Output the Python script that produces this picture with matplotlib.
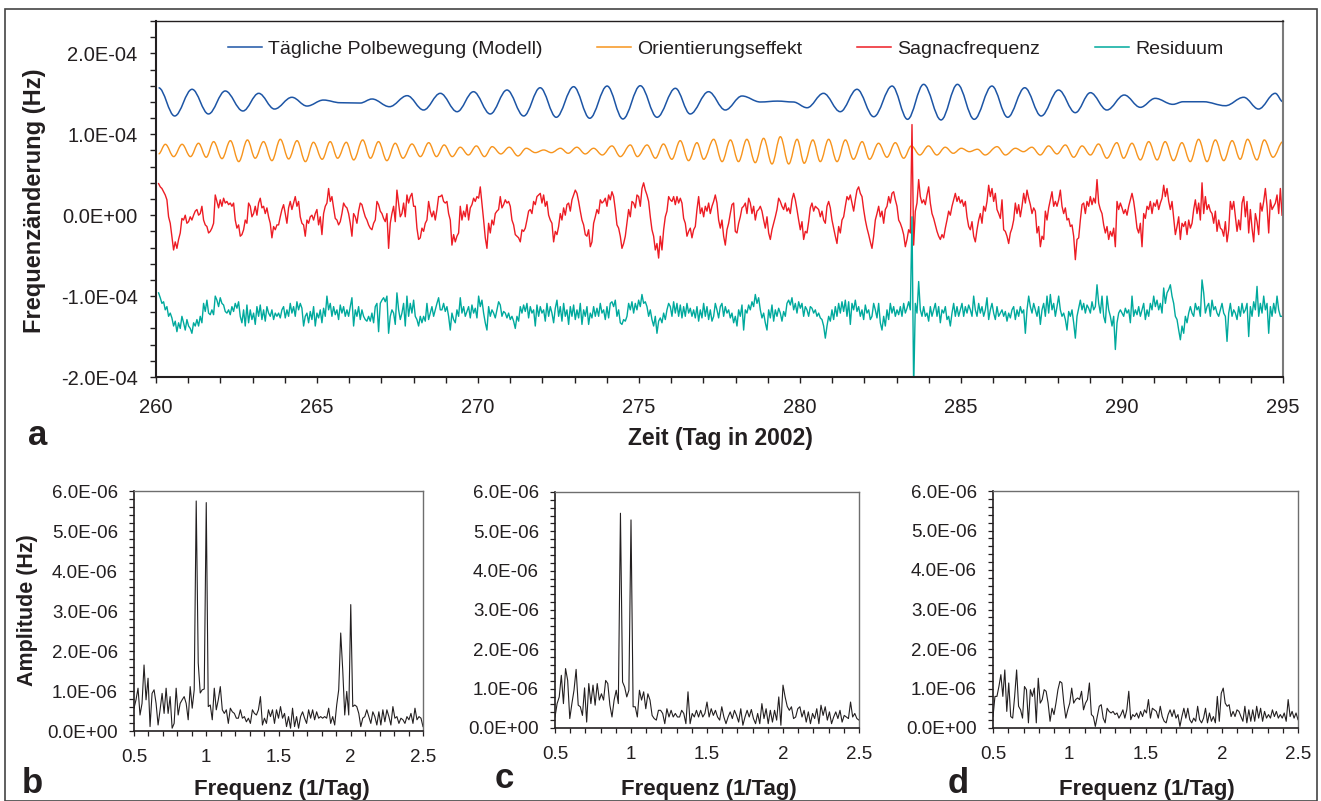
import numpy as np
import matplotlib
matplotlib.use("Agg")
import matplotlib.pyplot as plt
from matplotlib.path import Path
from matplotlib.patches import PathPatch, Rectangle
from matplotlib.lines import Line2D
from matplotlib.ticker import MultipleLocator, FuncFormatter

plt.rcParams['font.family'] = ['Liberation Sans', 'DejaVu Sans']

# ---------------- data (values in 1E-6 Hz) ----------------
# Daily polar motion model: turning points (day of 2002, value)
blue_t = [260.08, 260.58, 261.12, 261.63, 262.15, 262.70, 263.19, 263.68, 264.22, 264.69,
          265.20, 265.72, 266.34, 266.71, 267.25, 267.80, 268.31, 268.83, 269.35, 269.86,
          270.38, 270.90, 271.42, 271.93, 272.43, 272.97, 273.47, 274.01, 274.50, 275.04,
          275.56, 276.13, 276.59, 277.16, 277.68, 278.20, 278.77, 279.30, 279.79, 280.22,
          280.73, 281.25, 281.77, 282.29, 282.86, 283.34, 283.84, 284.38, 284.89, 285.41,
          285.96, 286.45, 286.98, 287.49, 288.03, 288.55, 289.02, 289.53, 290.07, 290.57,
          291.03, 291.58, 291.90, 292.53, 293.21, 293.78, 294.24, 294.76, 295.0]
blue_v = [157.5, 122.6, 155.6, 125.1, 153.5, 128.8, 150.6, 131.2, 145.7, 134.9,
          142.3, 139.0, 138.6, 143.6, 134.1, 147.7, 130.0, 150.6, 127.9, 152.6,
          125.1, 154.7, 122.6, 157.5, 121.0, 158.8, 119.8, 159.6, 118.9, 160.0,
          121.0, 156.8, 125.1, 152.6, 130.0, 147.3, 139.9, 141.0, 139.9, 132.8,
          150.6, 127.9, 155.6, 121.7, 159.6, 118.5, 161.7, 117.7, 161.7, 118.5,
          159.6, 121.0, 157.5, 122.6, 154.7, 126.7, 151.4, 130.0, 148.5, 133.3,
          144.4, 137.0, 140.2, 140.2, 135.3, 145.7, 131.2, 150.6, 140.2]

# Orientation effect: turning points
orange_t = [260.08, 260.29, 260.55, 260.81, 261.07, 261.32, 261.56, 261.79, 262.05, 262.31,
            262.57, 262.84, 263.08, 263.34, 263.60, 263.86, 264.12, 264.38, 264.64, 264.89,
            265.16, 265.41, 265.64, 265.91, 266.14, 266.42, 266.66, 266.91, 267.17, 267.43,
            267.67, 267.95, 268.21, 268.47, 268.71,
            268.95, 269.20, 269.45, 269.70, 269.95, 270.20, 270.44, 270.71, 270.97, 271.24,
            271.50, 271.78, 272.04, 272.28, 272.56, 272.80, 273.07, 273.33, 273.59, 273.86,
            274.16, 274.42, 274.73, 274.95, 275.25, 275.51, 275.76, 276.02, 276.28, 276.54,
            276.80, 277.01, 277.32,
            277.58, 277.84, 278.09, 278.35, 278.61, 278.87, 279.13, 279.39, 279.65, 279.91,
            280.13, 280.40, 280.63, 280.89, 281.15, 281.41, 281.66, 281.93, 282.16, 282.44,
            282.70, 282.96, 283.22, 283.46, 283.72, 283.99, 284.25, 284.51, 284.76, 285.01,
            285.26, 285.51, 285.75,
            286.12, 286.38, 286.69, 286.94, 287.20, 287.46, 287.72, 287.98, 288.24, 288.50,
            288.76, 289.02, 289.27, 289.53, 289.84, 290.05, 290.31, 290.57, 290.83, 291.09,
            291.34, 291.60, 291.86, 292.12, 292.38, 292.64, 292.90, 293.16, 293.42, 293.67,
            293.90, 294.19, 294.42, 294.69, 295.0]
orange_v = [75.7, 87.6, 72.4, 87.6, 72.4, 88.9, 71.6, 90.9, 69.9, 92.1, 66.2, 93.0, 70.4, 90.9,
            67.4, 93.8, 69.5, 92.1, 66.2, 90.1, 69.1, 90.9, 70.4, 90.1, 68.3, 93.0, 70.4, 90.9,
            67.4, 88.9, 70.4, 88.0, 72.4, 89.6, 72.4,
            86.8, 72.4, 84.0, 74.4, 85.6, 72.4, 84.7, 75.7, 84.0, 73.2, 82.7, 77.3, 80.6, 77.3,
            82.7, 76.5, 84.0, 75.7, 82.7, 74.4, 85.6, 72.4, 86.8, 72.4, 86.8, 70.4, 88.0, 69.1,
            92.1, 67.4, 89.6, 69.1, 93.8,
            66.2, 93.0, 66.2, 93.8, 64.9, 95.0, 63.3, 97.0, 63.3, 93.8, 64.2, 93.0, 66.2, 93.8,
            66.2, 93.0, 69.1, 90.9, 69.1, 88.9, 71.6, 89.6, 70.4, 85.6, 74.4, 85.6, 74.4, 84.0,
            76.5, 82.7, 78.5, 81.5, 74.4,
            84.7, 74.4, 82.7, 78.5, 84.0, 74.4, 85.6, 75.7, 86.8, 71.6, 85.6, 74.4, 88.0, 70.4,
            89.6, 70.4, 88.9, 68.3, 90.9, 68.3, 90.9, 67.4, 89.6, 66.2, 93.8, 66.2, 93.0, 67.4,
            92.1, 69.1, 93.8, 68.3, 93.0, 71.6, 90.9]

# Sagnac frequency (evenly sampled from day 260.08 to 294.97)
red_260 = [39, 35, 33, 29, 25, 19, -2, -10, -26, -43, -33, -41, -30, -22, -4, -6, 0, -10, -8, -2,
           -6, 0, 5, 7, 0, 2, 11, -6, -12, -14, -22, -20, -16, -10, 25, 17, 9, 19, 11, 21,
           15, 17, 13, 15, 11, 15, -6, -16, -12, -26, -24, -18, -6, -10, 15, 11, -2, 2, 11, 0,
           15, 21, 9, 11, 2, 9, -2, -10, -28, -14, -18, -12, -12, -2, 7, 13, 2, -10, 9, 17,
           7, 15, 23, 11, 17, -2, -10, -12, -26, -6, -10, -2, 0, -6, 2, 7, -12, -2, -24, 2,
           11, 15, 33, 17, 23, 9, -4, -6, -12, -8, 2, 15, 11, 9, 2, -10, -26, 2, -2, -10,
           5, 15, 13, 5, -2, -6, -12, -16, -18, -10, -6, 17, 13, 5, 2, -4, -8, 2, -41, -10,
           2, 11, -8, 31, 15, -2, 2, 15, -2, 25, 15, 23, 27, 11, 11, -16, -30, -28, -16, -20,
           -10, -6, 17, 5, -2, 5, -6, 7, 23, 23]
red_269 = [25, 17, 15, 17, 2, -6, -37, -24, -33, -26, -22, 11, -6, 5, -2, 13, -6, 9, 13, 21,
           17, 23, 21, 35, 15, -6, -28, -41, -10, -22, -6, -12, 2, 5, 7, 23, 9, 13, 19, 15,
           17, 11, -6, -12, -24, -26, -28, -33, -18, -20, -16, -6, 5, 7, 2, 17, 13, 23, 25, 27,
           15, 25, 11, 17, 0, -6, -10, -33, -20, -24, -14, 2, -6, 9, 0, 13, 15, 5, 19, 25,
           31, 27, 17, 5, -6, -12, -24, -26, -18, -39, -33, -10, -2, 7, 2, 19, 15, 17, 21, 11,
           25, 19, 29, 23, 7, -12, -16, -26, -41, -35, -26, -10, 7, -2, 17, 15, 9, 25, 23, 11,
           33, 40, 31, 25, 17, -2, -18, -26, -43, -35, -53, -26, -43, -18, -2, 5, 23, 19, 17, 23,
           13, 23, 15, 21, 15, -4, -10, -26, -20, -16, -28, -18, -14, 7, 23, 2, 9, -2, 11, 5,
           15, 2, 11, 17, 25, 15, -6, -16]
red_277 = [-6, -26, -37, -18, -10, 2, 13, 15, -20, -22, -10, -2, 9, 11, 15, 2, 21, 15, 2, 11,
           -6, 5, 7, 11, 5, -6, -16, -2, -22, -30, -18, -10, -2, 7, 21, 17, 11, 7, 15, 5,
           9, 2, 19, 27, 19, 7, -6, -18, -8, -30, -20, -22, -8, 9, 15, 5, 11, 9, 7, -2,
           5, -6, -10, 11, 17, 9, -6, -16, -26, -35, -14, -22, -6, -2, 11, 23, 19, 25, 15, 5,
           19, 31, 35, 27, 23, 7, -6, -16, -24, -33, -41, -26, -6, 2, 11, -2, 5, -10, 7, 11,
           23, 15, 27, 29, 19, 11, -6, -10, -16, -24, -39, -30, -18, -22, 112, -37, 5, 15, 44, 23,
           15, 19, 13, 25, 35, 15, 2, -4, -12, -20, -26, -30, -24, -28, -16, -6, 5, 0, 11, 19,
           27, 17, 23, 15, 19, 11, 17, -2, -14, -18, -8, -26, -33, -18, -6, 2, -10, 11, 5, 17,
           37, 23, 33, 17, 27, 7, 2, -4]
red_286 = [19, -18, -20, -26, -35, -22, -16, -6, 15, 2, 13, -2, 11, 27, 15, 31, 21, 13, 2, 9,
           5, -22, -14, -39, -26, -30, 5, -6, 9, 19, 29, 11, 17, 11, 19, 31, 11, 2, 9, -6,
           -4, -14, -12, -26, -55, -30, -28, -6, 13, 15, 2, 17, 11, 23, 13, 21, 15, 44, 15, 7,
           2, -12, -22, -14, -30, -20, -26, -16, -39, 17, 7, 15, 9, 2, 7, 0, 11, 19, 27, 17,
           2, -16, -22, -10, -39, 2, -4, 11, 7, 17, 2, 15, 11, 19, 7, 15, 21, 37, 23, 33,
           17, 7, 17, -4, -24, -14, -2, -30, -10, -14, -8, -24, -6, -16, -10, 7, 19, 2, 15, -6,
           40, 2, 23, 7, 13, 5, 2, -10, 5, -20, -6, -16, -18, -26, -8, -33, -18, 17, 7, 17,
           -2, -20, -6, -18, 15, 23, -2, 17, -22, 7, -16, -33, 2, -8, -24, 15, 5, 17, 33, 11,
           -22, 19, 7, 11, 15, 25, 2, 33, 0]

# Residual (same sampling)
teal_260 = [-96, -102, -109, -107, -117, -113, -125, -121, -127, -137, -131, -144, -133, -140, -125,
            -133, -142, -129, -137, -140, -146, -133, -137, -129, -137, -125, -133, -109, -119, -105,
            -121, -123, -117, -123, -100, -105, -113, -102, -109, -111, -119, -121, -117, -123, -113,
            -119, -109, -115, -107, -125, -133, -117, -137, -111, -133, -117, -129, -121, -135, -113,
            -125, -111, -129, -117, -131, -113, -121, -125, -117, -129, -121, -125, -121, -127, -117,
            -113, -127, -117, -125, -109, -121, -113, -125, -107, -117, -109, -115, -137, -125, -121,
            -133, -119, -129, -113, -137, -121, -127, -117, -133, -115, -125, -100, -117, -109, -125,
            -113, -123, -117, -129, -111, -121, -113, -125, -117, -125, -113, -102, -137, -117, -125,
            -113, -129, -117, -125, -129, -131, -125, -131, -121, -133, -113, -109, -144, -109, -105,
            -102, -107, -100, -146, -125, -117, -121, -135, -96, -117, -129, -121, -109, -137, -100,
            -125, -109, -121, -105, -125, -129, -137, -125, -133, -125, -131, -109, -129, -121, -113,
            -125, -117, -109, -102, -117]
teal_269 = [-117, -109, -119, -113, -125, -142, -121, -129, -133, -117, -125, -102, -121, -113, -125,
            -119, -113, -127, -111, -121, -115, -127, -100, -113, -105, -121, -133, -142, -113, -125,
            -117, -121, -127, -117, -107, -111, -125, -119, -121, -127, -121, -129, -125, -131, -140,
            -125, -131, -113, -121, -111, -119, -109, -127, -113, -121, -117, -137, -111, -125, -113,
            -121, -117, -131, -109, -125, -113, -121, -133, -115, -105, -125, -113, -131, -109, -125,
            -117, -135, -113, -125, -111, -129, -117, -127, -109, -135, -117, -125, -113, -135, -121,
            -127, -113, -125, -115, -125, -109, -121, -117, -129, -113, -127, -109, -107, -113, -105,
            -125, -117, -133, -135, -129, -131, -125, -109, -117, -107, -121, -109, -117, -105, -113,
            -98, -109, -107, -113, -125, -117, -129, -137, -125, -146, -131, -127, -133, -121, -129,
            -117, -109, -113, -125, -107, -121, -109, -125, -111, -127, -113, -125, -109, -121, -115,
            -125, -117, -127, -113, -131, -117, -127, -109, -125, -113, -129, -117, -131, -125, -109,
            -117, -127, -113]
teal_277 = [-109, -125, -113, -121, -117, -127, -121, -133, -125, -137, -117, -125, -111, -142, -117,
            -121, -111, -117, -107, -113, -98, -109, -102, -117, -127, -121, -133, -142, -117, -127,
            -111, -131, -117, -125, -115, -121, -131, -119, -125, -109, -105, -111, -102, -117, -109,
            -121, -107, -115, -109, -125, -113, -117, -125, -113, -115, -121, -117, -125, -121, -127,
            -129, -137, -152, -137, -125, -131, -117, -129, -113, -125, -109, -121, -107, -119, -105,
            -125, -107, -135, -109, -117, -105, -119, -113, -125, -117, -129, -111, -121, -117, -129,
            -125, -109, -117, -127, -109, -133, -142, -125, -137, -117, -129, -109, -121, -113, -125,
            -117, -123, -113, -125, -109, -121, -115, -107, -117, -2, -215, -109, -121, -82, -117,
            -125, -113, -125, -121, -131, -113, -125, -117, -109, -125, -113, -133, -117, -121, -113,
            -129, -125, -137, -121, -109, -125, -113, -125, -117, -109, -125, -113, -121, -111, -117,
            -125, -100, -117, -125, -109, -121, -113, -125, -117, -102, -129, -117, -109, -121, -129,
            -113, -125, -121]
teal_286 = [-117, -125, -119, -131, -121, -127, -117, -113, -129, -117, -125, -113, -121, -117, -146,
            -117, -100, -113, -121, -109, -117, -125, -113, -135, -117, -109, -125, -100, -121, -98,
            -117, -109, -125, -113, -100, -117, -125, -121, -129, -142, -119, -125, -117, -133, -152,
            -125, -115, -105, -117, -109, -121, -111, -115, -121, -107, -117, -113, -86, -109, -121,
            -100, -125, -133, -100, -117, -125, -137, -125, -166, -133, -121, -117, -121, -125, -115,
            -121, -117, -133, -100, -125, -117, -123, -113, -125, -117, -109, -129, -117, -125, -109,
            -117, -100, -113, -105, -117, -109, -121, -90, -109, -96, -92, -86, -100, -109, -125,
            -129, -142, -154, -137, -146, -125, -133, -121, -113, -121, -125, -109, -117, -113, -125,
            -80, -96, -121, -113, -109, -125, -105, -117, -113, -121, -125, -117, -109, -121, -125,
            -156, -121, -109, -125, -117, -121, -129, -113, -125, -109, -121, -117, -109, -150, -113,
            -125, -107, -117, -88, -125, -109, -121, -100, -117, -109, -146, -113, -125, -109, -121,
            -100, -117, -125, -125]

# Amplitude spectra (1E-6 Hz), evenly spaced from 0.5 to 2.5 cycles/day
spec_b = [0.57, 0.78, 1.07, 0.40, 0.69, 1.65, 0.78, 1.32, 0.11, 0.94,
          1.03, 0.69, 0.15, 0.53, 0.94, 0.44, 1.07, 0.44, 0.86, 0.07,
          0.19, 1.07, 0.40, 0.69, 0.78, 0.86, 0.69, 0.28, 1.11, 0.57,
          1.03, 5.75, 1.70, 0.95, 1.03, 1.05, 5.71, 0.61, 0.65, 0.28,
          1.07, 0.53, 0.78, 1.11, 0.53, 0.44, 0.53, 0.19, 0.57, 0.48,
          0.44, 0.32, 0.32, 0.53, 0.32, 0.36, 0.23, 0.32, 0.19, 0.53,
          0.44, 0.40, 0.53, 0.86, 0.15, 0.32, 0.19, 0.53, 0.36, 0.53,
          0.19, 0.53, 0.32, 0.61, 0.32, 0.44, 0.11, 0.36, 0.07, 0.57,
          0.11, 0.36, 0.07, 0.36, 0.48, 0.32, 0.19, 0.53, 0.32, 0.53,
          0.28, 0.48, 0.32, 0.36, 0.32, 0.36, 0.32, 0.57, 0.19, 0.36,
          0.15, 0.65, 1.03, 2.45, 1.53, 0.40, 0.99, 0.40, 3.16, 0.61,
          0.65, 0.61, 0.44, 0.11, 0.32, 0.36, 0.53, 0.36, 0.19, 0.48,
          0.36, 0.15, 0.48, 0.15, 0.53, 0.23, 0.53, 0.36, 0.15, 0.61,
          0.32, 0.36, 0.19, 0.32, 0.28, 0.19, 0.36, 0.28, 0.44, 0.19,
          0.57, 0.28, 0.36, 0.32, 0.11]
spec_c = [0.28, 0.62, 0.79, 1.34, 0.62, 1.51, 1.21, 0.24, 0.62, 0.96,
          1.49, 0.58, 0.54, 0.32, 1.02, 0.15, 1.13, 0.62, 1.09, 0.58,
          1.13, 0.71, 0.87, 0.71, 1.21, 1.13, 0.58, 0.28, 0.71, 0.96,
          0.62, 5.46, 1.17, 1.04, 0.79, 0.96, 5.29, 0.54, 0.54, 0.28,
          0.96, 0.71, 0.92, 0.49, 0.87, 0.71, 0.32, 0.24, 0.20, 0.45,
          0.45, 0.37, 0.11, 0.49, 0.28, 0.45, 0.28, 0.37, 0.28, 0.28,
          0.45, 0.37, 0.11, 0.92, 0.11, 0.37, 0.28, 0.45, 0.28, 0.45,
          0.28, 0.37, 0.66, 0.28, 0.49, 0.32, 0.45, 0.28, 0.20, 0.54,
          0.28, 0.11, 0.28, 0.41, 0.24, 0.45, 0.32, 0.15, 0.49, 0.07,
          0.28, 0.45, 0.28, 0.47, 0.24, 0.11, 0.37, 0.11, 0.62, 0.24,
          0.49, 0.11, 0.45, 0.15, 0.45, 0.20, 0.79, 0.07, 1.09, 0.79,
          0.55, 0.45, 0.54, 0.24, 0.28, 0.49, 0.54, 0.28, 0.45, 0.15,
          0.41, 0.11, 0.37, 0.24, 0.49, 0.11, 0.58, 0.32, 0.54, 0.20,
          0.41, 0.11, 0.28, 0.41, 0.24, 0.45, 0.15, 0.32, 0.28, 0.24,
          0.66, 0.28, 0.37, 0.24, 0.20]
spec_d = [0.29, 0.80, 0.80, 1.05, 1.35, 0.80, 1.47, 0.42, 1.14, 0.29,
          0.25, 0.80, 1.47, 0.55, 0.46, 0.25, 1.05, 0.97, 0.13, 0.97,
          0.80, 1.01, 0.13, 1.26, 0.63, 0.72, 0.97, 0.93, 0.63, 0.17,
          0.50, 0.34, 0.63, 0.97, 1.18, 1.14, 0.63, 0.25, 0.46, 0.63,
          1.01, 0.63, 0.72, 0.76, 0.72, 0.93, 0.46, 0.63, 0.72, 1.14,
          0.34, 0.29, 0.04, 0.29, 0.55, 0.59, 0.25, 0.13, 0.50, 0.42,
          0.38, 0.42, 0.34, 0.38, 0.25, 0.34, 0.46, 0.25, 0.46, 0.93,
          0.21, 0.34, 0.29, 0.38, 0.25, 0.42, 0.29, 0.46, 0.38, 0.72,
          0.25, 0.50, 0.46, 0.42, 0.25, 0.55, 0.29, 0.17, 0.13, 0.34,
          0.46, 0.29, 0.46, 0.25, 0.34, 0.04, 0.29, 0.50, 0.25, 0.50,
          0.21, 0.13, 0.25, 0.17, 0.55, 0.21, 0.13, 0.25, 0.50, 0.13,
          0.38, 0.17, 0.29, 0.13, 0.80, 0.17, 0.88, 1.01, 0.63, 0.55,
          0.59, 0.29, 0.42, 0.29, 0.46, 0.42, 0.29, 0.17, 0.55, 0.13,
          0.46, 0.17, 0.46, 0.17, 0.55, 0.25, 0.50, 0.17, 0.42, 0.25,
          0.34, 0.25, 0.46, 0.29, 0.42, 0.25, 0.34, 0.25, 0.38, 0.17,
          0.72, 0.29, 0.42, 0.25, 0.38, 0.21]

legend_labels = ['Tägliche Polbewegung (Modell)', 'Orientierungseffekt',
                 'Sagnacfrequenz', 'Residuum']

# ---------------- styling ----------------
BLUE, ORANGE, RED, TEAL = '#1d55a5', '#f7941d', '#ed1c24', '#00a99d'
INK = '#231f20'
U = 1e-6

W, H = 1321, 801
fig = plt.figure(figsize=(W / 100, H / 100), dpi=100)


def box(l, t, r, b):
    return [l / W, 1 - b / H, (r - l) / W, (b - t) / H]


def sci(v, pos):
    if abs(v) < 1e-12:
        v = 0.0
    return f"{v:.1E}"


def smooth_path(t, v):
    """Smooth curve through turning points (horizontal tangents)."""
    verts = [(t[0], v[0])]
    codes = [Path.MOVETO]
    for i in range(len(t) - 1):
        d = t[i + 1] - t[i]
        verts += [(t[i] + 0.363 * d, v[i]), (t[i + 1] - 0.363 * d, v[i + 1]), (t[i + 1], v[i + 1])]
        codes += [Path.CURVE4] * 3
    return Path(verts, codes)


# ---------------- panel a ----------------
ax = fig.add_axes(box(156, 21, 1283, 377))
ax.set_xlim(260, 295)
ax.set_ylim(-2e-4, 2.4e-4)

ax.add_patch(PathPatch(smooth_path(blue_t, np.array(blue_v) * U), fill=False,
                       edgecolor=BLUE, lw=1.1))
ax.add_patch(PathPatch(smooth_path(orange_t, np.array(orange_v) * U), fill=False,
                       edgecolor=ORANGE, lw=1.0))
red = np.array(red_260 + red_269 + red_277 + red_286) * U
teal = np.array(teal_260 + teal_269 + teal_277 + teal_286) * U
ax.plot(np.linspace(260.08, 294.97, len(red)), red, color=RED, lw=1.0)
ax.plot(np.linspace(260.08, 294.97, len(teal)), teal, color=TEAL, lw=1.0)

ax.xaxis.set_major_locator(MultipleLocator(5))
ax.xaxis.set_minor_locator(MultipleLocator(1))
ax.yaxis.set_major_locator(MultipleLocator(1e-4))
ax.yaxis.set_minor_locator(MultipleLocator(2e-5))
ax.yaxis.set_major_formatter(FuncFormatter(sci))
ax.tick_params(axis='both', which='both', direction='out', length=4.3, width=1.0,
               color=INK, labelcolor=INK, labelsize=14.5)
ax.tick_params(axis='y', which='both', pad=9)
ax.tick_params(axis='x', which='both', pad=11)
ax.tick_params(top=False, right=False)
for s in ['left', 'bottom']:
    ax.spines[s].set_linewidth(1.5)
    ax.spines[s].set_color(INK)
ax.spines['top'].set_linewidth(1.0)
ax.spines['top'].set_color(INK)
ax.spines['right'].set_linewidth(1.5)
ax.spines['right'].set_color('#7a7a7a')

ax.set_xlabel('Zeit (Tag in 2002)', fontsize=16.5, fontweight='bold', color=INK)
ax.xaxis.label.set_va('center')
ax.xaxis.set_label_coords((720 - 156) / 1127, (377 - 438) / 356)
ax.set_ylabel('Frequenzänderung (Hz)', fontsize=17, fontweight='bold', color=INK)
ax.yaxis.label.set_va('center')
ax.yaxis.set_label_coords((35 - 156) / 1127, (377 - 201) / 356)

handles = [Line2D([], [], color=c, lw=1.1) for c in (BLUE, ORANGE, RED, TEAL)]
leg = ax.legend(handles, legend_labels, ncol=4, loc='center left',
                bbox_to_anchor=((228 - 156) / 1127, (377 - 49) / 356),
                frameon=False, fontsize=14, handlelength=1.75, handletextpad=0.3,
                columnspacing=2.83, borderpad=0, borderaxespad=0)
for txt in leg.get_texts():
    txt.set_color(INK)

# ---------------- spectra ----------------
spec_boxes = [(134, 491, 423, 731), (555, 492, 859, 728), (993, 491, 1298, 728)]
spec_data = [spec_b, spec_c, spec_d]
for i, (bx, vals) in enumerate(zip(spec_boxes, spec_data)):
    l, t, r, b = bx
    sa = fig.add_axes(box(l, t, r, b))
    f = np.linspace(0.5, 2.5, len(vals))
    sa.plot(f, np.array(vals) * U, color=INK, lw=0.8)
    sa.set_xlim(0.5, 2.5)
    sa.set_ylim(0, 6e-6)
    sa.xaxis.set_major_locator(MultipleLocator(0.5))
    sa.xaxis.set_minor_locator(MultipleLocator(0.1))
    sa.yaxis.set_major_locator(MultipleLocator(1e-6))
    sa.yaxis.set_minor_locator(MultipleLocator(2e-7))
    sa.yaxis.set_major_formatter(FuncFormatter(sci))
    sa.xaxis.set_major_formatter(FuncFormatter(lambda v, p: f"{v:g}"))
    sa.tick_params(axis='both', which='both', direction='out', length=3.5, width=0.9,
                   color=INK, labelcolor=INK, labelsize=13.5)
    sa.tick_params(axis='y', which='both', pad=8)
    sa.tick_params(axis='x', which='both', pad=9.5)
    for s in ['left', 'bottom']:
        sa.spines[s].set_linewidth(1.2)
        sa.spines[s].set_color(INK)
    for s in ['top', 'right']:
        sa.spines[s].set_linewidth(1.0)
        sa.spines[s].set_color('#6e6e6e')
    sa.set_xlabel('Frequenz (1/Tag)', fontsize=16, fontweight='bold', color=INK)
    sa.xaxis.label.set_va('center')
    cx = {0: 282, 1: 709, 2: 1147}[i]
    sa.xaxis.set_label_coords((cx - l) / (r - l), (b - 789) / (b - t))
    if i == 0:
        sa.set_ylabel('Amplitude (Hz)', fontsize=15.5, fontweight='bold', color=INK)
        sa.yaxis.label.set_va('center')
        sa.yaxis.set_label_coords((28 - l) / (r - l), (b - 610) / (b - t))

# panel letters
for letter, x, y in [('a', 28, 445), ('b', 22, 793), ('c', 495, 788), ('d', 948, 793)]:
    fig.text(x / W, 1 - y / H, letter, fontsize=25, fontweight='bold', color=INK,
             ha='left', va='baseline')

# figure frame
fig.add_artist(Rectangle((5 / W, 0), (1317 - 5) / W, 1 - 9 / H, transform=fig.transFigure,
                         fill=False, edgecolor='#444444', lw=1.2))

fig.savefig('out.png', dpi=100)
